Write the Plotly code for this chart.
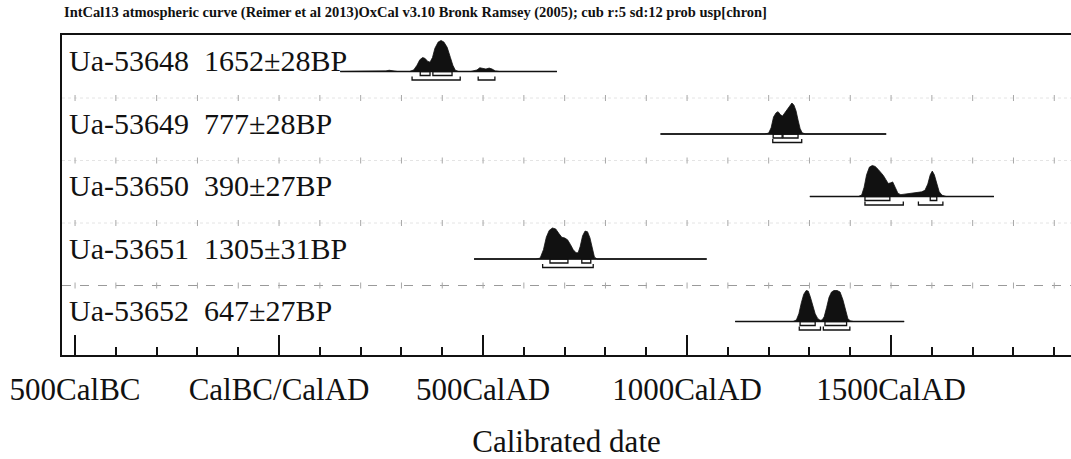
import plotly.graph_objects as go

# Radiocarbon samples
LABELS = ["Ua-53648", "Ua-53649", "Ua-53650", "Ua-53651", "Ua-53652"]
BP = [1652, 777, 390, 1305, 647]
BP_ERR = [28, 28, 27, 31, 27]

# Calibrated probability distributions (calendar year AD, relative probability)
YEARS_53648 = [150, 250, 262, 270, 278, 290, 320, 330, 338, 345, 352, 358, 364, 370, 376,
               382, 390, 397, 404, 412, 420, 426, 432, 440, 470, 485, 492, 500, 507, 515,
               522, 530, 540, 681]
PROB_53648 = [0, 0, 0.02, 0.04, 0.02, 0, 0, 0.05, 0.2, 0.38, 0.45, 0.42, 0.33, 0.3, 0.45,
              0.75, 0.95, 1.0, 0.95, 0.78, 0.45, 0.2, 0.04, 0, 0, 0.05, 0.12, 0.1, 0.08, 0.11,
              0.08, 0.02, 0, 0]

YEARS_53649 = [935, 1190, 1200, 1206, 1212, 1218, 1223, 1229, 1234, 1240, 1246, 1252, 1257,
               1262, 1267, 1272, 1277, 1282, 1290, 1488]
PROB_53649 = [0, 0, 0.03, 0.2, 0.55, 0.68, 0.72, 0.62, 0.58, 0.7, 0.82, 0.92, 1.0,
              0.93, 0.75, 0.45, 0.18, 0.04, 0, 0]

YEARS_53650 = [1301, 1420, 1428, 1434, 1440, 1447, 1454, 1461, 1468, 1475, 1481, 1487, 1493,
               1499, 1504, 1510, 1517, 1524, 1535, 1545, 1555, 1565, 1575, 1583, 1590, 1596,
               1601, 1606, 1612, 1618, 1625, 1635, 1752]
PROB_53650 = [0, 0, 0.05, 0.3, 0.7, 0.95, 1.0, 0.97, 0.88, 0.78, 0.68, 0.55, 0.42,
              0.44, 0.47, 0.3, 0.1, 0.06, 0.08, 0.1, 0.12, 0.12, 0.15, 0.2, 0.4, 0.7,
              0.82, 0.7, 0.4, 0.15, 0.04, 0, 0]

YEARS_53651 = [478, 630, 640, 648, 655, 662, 670, 678, 686, 693, 700, 707, 714, 721, 728,
               733, 738, 744, 750, 756, 762, 768, 773, 780, 1048]
PROB_53651 = [0, 0, 0.03, 0.3, 0.7, 0.92, 1.0, 0.97, 0.82, 0.7, 0.68, 0.62, 0.47, 0.3, 0.2,
              0.2, 0.4, 0.75, 0.9, 0.88, 0.68, 0.3, 0.06, 0, 0]

YEARS_53652 = [1118, 1260, 1268, 1274, 1280, 1286, 1292, 1297, 1302, 1308, 1314, 1320, 1326,
               1331, 1336, 1342, 1348, 1354, 1360, 1368, 1375, 1382, 1388, 1394, 1400, 1408, 1532]
PROB_53652 = [0, 0, 0.05, 0.25, 0.6, 0.88, 1.0, 0.98, 0.8, 0.5, 0.25, 0.1, 0.04,
              0.05, 0.15, 0.45, 0.78, 0.95, 1.0, 1.0, 0.95, 0.7, 0.35, 0.1, 0.02, 0, 0]

YEARS = [YEARS_53648, YEARS_53649, YEARS_53650, YEARS_53651, YEARS_53652]
PROBS = [PROB_53648, PROB_53649, PROB_53650, PROB_53651, PROB_53652]

# 68.2% and 95.4% highest probability ranges (AD)
RANGE68 = [[(346, 370), (377, 424)], [(1211, 1233), (1235, 1272)],
           [(1436, 1497), (1596, 1612)], [(664, 708), (742, 764)],
           [(1277, 1314), (1338, 1391)]]
RANGE95 = [[(326, 444), (488, 529)], [(1210, 1281)],
           [(1436, 1530), (1567, 1627)], [(646, 770)],
           [(1275, 1327), (1334, 1399)]]

AXIS_TICKS = [-500, 0, 500, 1000, 1500]
AXIS_LABELS = ["500CalBC", "CalBC/CalAD", "500CalAD", "1000CalAD", "1500CalAD"]

TITLE = ("IntCal13 atmospheric curve (Reimer et al 2013)OxCal v3.10 Bronk Ramsey (2005); "
         "cub r:5 sd:12 prob usp[chron]")

# Layout constants (y axis measured in pixels from the bottom axis)
X_RANGE = [-532, 1941]
Y_RANGE = [0, 320]
ROW_TOP = 283.5
ROW_STEP = 62.5
PEAK_H = 31
SEP_OFF = 36
FONT = "Liberation Serif, DejaVu Serif, Times New Roman, serif"
INK = "#111111"

fig = go.Figure()

bases = [ROW_TOP - i * ROW_STEP for i in range(len(LABELS))]

# Row separators: faint dotted line plus small marks each century
for i in range(1, len(LABELS)):
    ys = bases[i] + SEP_OFF
    last = i == len(LABELS) - 1
    fig.add_trace(go.Scatter(
        x=X_RANGE, y=[ys, ys], mode="lines",
        line=dict(color="#9a9a9a" if last else "#e4e4e4", width=1,
                  dash="dash" if last else "dot"),
        hoverinfo="skip", showlegend=False))
    sx, sy = [], []
    for yr in range(-500, 2000, 100):
        sx += [yr, yr, None]
        sy += [ys - 3, ys + 3, None]
    fig.add_trace(go.Scatter(
        x=sx, y=sy, mode="lines", line=dict(color="#a8a8a8", width=1),
        hoverinfo="skip", showlegend=False))

for i, base in enumerate(bases):
    yrs, pr = YEARS[i], PROBS[i]
    # baseline across plotted span
    fig.add_trace(go.Scatter(
        x=[yrs[0], yrs[-1]], y=[base, base], mode="lines",
        line=dict(color=INK, width=1.6), hoverinfo="skip", showlegend=False))
    # filled distribution
    px = list(yrs) + [yrs[-1], yrs[0]]
    py = [base + PEAK_H * p for p in pr] + [base, base]
    fig.add_trace(go.Scatter(
        x=px, y=py, mode="lines", fill="toself", fillcolor=INK,
        line=dict(color=INK, width=0.8), hoverinfo="skip", showlegend=False))
    # 68.2% ranges as open boxes
    for a, b in RANGE68[i]:
        fig.add_trace(go.Scatter(
            x=[a, b, b, a, a], y=[base, base, base - 4, base - 4, base],
            mode="lines", line=dict(color=INK, width=1.3),
            hoverinfo="skip", showlegend=False))
    # 95.4% ranges as brackets
    for a, b in RANGE95[i]:
        fig.add_trace(go.Scatter(
            x=[a, a, b, b], y=[base - 5, base - 8.5, base - 8.5, base - 5],
            mode="lines", line=dict(color=INK, width=1.3),
            hoverinfo="skip", showlegend=False))
    fig.add_annotation(
        x=0, xref="paper", xanchor="left", xshift=5,
        y=base + 11, yref="y", yanchor="middle",
        text=f"{LABELS[i]}\u00a0\u00a0{BP[i]}±{BP_ERR[i]}BP",
        showarrow=False, font=dict(family=FONT, size=30, color=INK))

fig.add_annotation(
    x=0, xref="paper", xanchor="left", y=1, yref="paper", yanchor="bottom",
    yshift=12, text=f"<b>{TITLE}</b>", showarrow=False,
    font=dict(family=FONT, size=14.5, color=INK))

minor_vals = [v for v in range(-500, 2000, 100) if v not in AXIS_TICKS]

fig.update_xaxes(
    range=X_RANGE, showgrid=False, zeroline=False,
    showline=True, linecolor=INK, linewidth=2, mirror=True,
    tickmode="array", tickvals=AXIS_TICKS, ticktext=AXIS_LABELS,
    ticks="inside", ticklen=20, tickwidth=2, tickcolor=INK,
    minor=dict(tickmode="array", tickvals=minor_vals, ticks="inside",
               ticklen=8, tickwidth=1.5, tickcolor=INK, showgrid=False),
    tickfont=dict(family=FONT, size=31, color=INK),
    ticklabelstandoff=6,
    title=dict(text="Calibrated date", font=dict(family=FONT, size=31, color=INK),
               standoff=26),
)
fig.update_yaxes(
    range=Y_RANGE, showgrid=False, zeroline=False, showticklabels=False,
    showline=True, linecolor=INK, linewidth=2, ticks="",
)

fig.update_layout(
    width=1071, height=459,
    margin=dict(l=62, r=0, t=35, b=104),
    paper_bgcolor="white", plot_bgcolor="white",
    showlegend=False,
    font=dict(family=FONT),
)

fig.write_html("out.html")
